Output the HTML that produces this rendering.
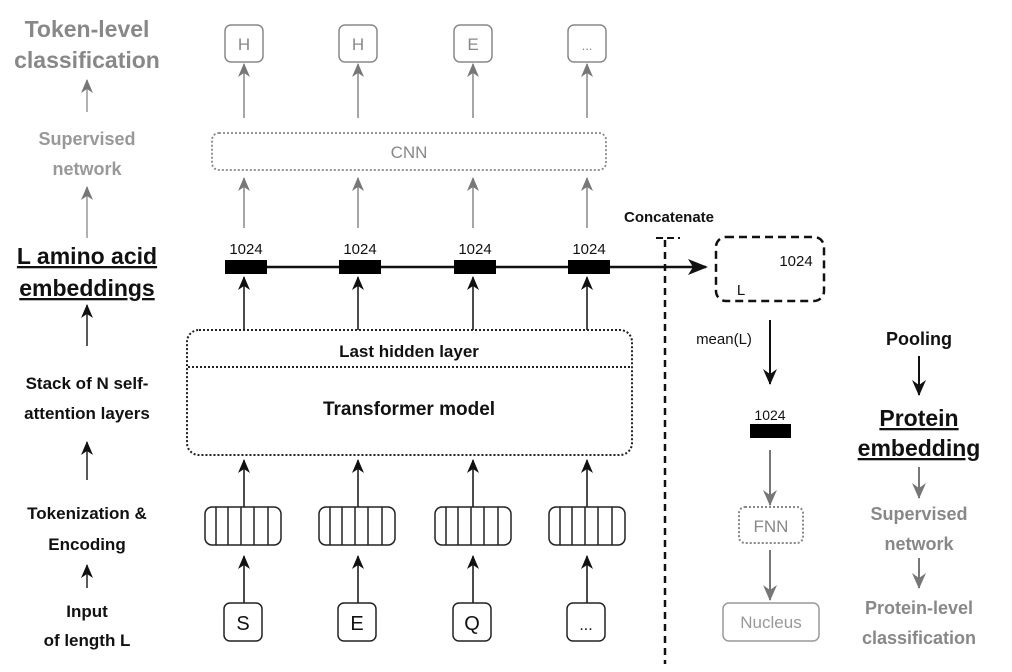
<!DOCTYPE html>
<html><head><style>
html,body{margin:0;padding:0;background:#fff;}
svg{display:block;font-family:"Liberation Sans",Arial,sans-serif;}
</style></head><body>
<svg width="1012" height="672" viewBox="0 0 1012 672" xmlns="http://www.w3.org/2000/svg">
<defs>
<marker id="ab" markerWidth="12" markerHeight="14" refX="6" refY="1" orient="0" markerUnits="userSpaceOnUse" viewBox="0 0 12 14"><path d="M0,14 L6,0 L12,14 L6,10 Z" fill="#111"/></marker>
<marker id="ag" markerWidth="12" markerHeight="14" refX="6" refY="1" orient="0" markerUnits="userSpaceOnUse" viewBox="0 0 12 14"><path d="M0,14 L6,0 L12,14 L6,10 Z" fill="#777"/></marker>
<marker id="big" markerWidth="20" markerHeight="16" refX="18" refY="8" orient="0" markerUnits="userSpaceOnUse" viewBox="0 0 20 16"><path d="M0,0 L20,8 L0,16 L5,8 Z" fill="#111"/></marker>
<marker id="dn" markerWidth="14" markerHeight="16" refX="7" refY="15" orient="0" markerUnits="userSpaceOnUse" viewBox="0 0 14 16"><path d="M0,0 L7,16 L14,0 L7,5 Z" fill="#111"/></marker>
<marker id="dng" markerWidth="14" markerHeight="16" refX="7" refY="15" orient="0" markerUnits="userSpaceOnUse" viewBox="0 0 14 16"><path d="M0,0 L7,16 L14,0 L7,5 Z" fill="#777"/></marker>
</defs>

<g font-weight="bold" text-anchor="middle">
<text x="87" y="37" font-size="23" fill="#888">Token-level</text>
<text x="87" y="68" font-size="23" fill="#888">classification</text>
<text x="87" y="145" font-size="18" fill="#999">Supervised</text>
<text x="87" y="175" font-size="18" fill="#999">network</text>
<text x="87" y="264" font-size="23" fill="#111" text-decoration="underline">L amino acid</text>
<text x="87" y="296" font-size="23" fill="#111" text-decoration="underline">embeddings</text>
<text x="87" y="389" font-size="17" fill="#111">Stack of N self-</text>
<text x="87" y="419" font-size="17" fill="#111">attention layers</text>
<text x="87" y="519" font-size="17" fill="#111">Tokenization &amp;</text>
<text x="87" y="550" font-size="17" fill="#111">Encoding</text>
<text x="87" y="617" font-size="17" fill="#111">Input</text>
<text x="87" y="646" font-size="17" fill="#111">of length L</text>
</g>
<line x1="87" y1="112" x2="87" y2="80" stroke="#999" stroke-width="1.5" marker-end="url(#ag)"/>
<line x1="87" y1="238" x2="87" y2="187" stroke="#999" stroke-width="1.5" marker-end="url(#ag)"/>
<line x1="87" y1="346" x2="87" y2="305" stroke="#222" stroke-width="1.5" marker-end="url(#ab)"/>
<line x1="87" y1="480" x2="87" y2="442" stroke="#222" stroke-width="1.5" marker-end="url(#ab)"/>
<line x1="87" y1="588" x2="87" y2="565" stroke="#222" stroke-width="1.5" marker-end="url(#ab)"/>

<rect x="212" y="133" width="394" height="37" rx="7" fill="none" stroke="#888" stroke-width="1.8" stroke-dasharray="2,2"/>
<text x="409" y="158" font-size="17" fill="#888" text-anchor="middle">CNN</text>

<rect x="187" y="330" width="445" height="125" rx="12" fill="none" stroke="#222" stroke-width="2" stroke-dasharray="2,2"/>
<line x1="188" y1="367" x2="631" y2="367" stroke="#222" stroke-width="2" stroke-dasharray="2,2"/>
<text x="409" y="357" font-size="17" font-weight="bold" text-anchor="middle" fill="#111">Last hidden layer</text>
<text x="409" y="415" font-size="19" font-weight="bold" text-anchor="middle" fill="#111">Transformer model</text>

<line x1="226" y1="267" x2="706" y2="267" stroke="#111" stroke-width="2.5" marker-end="url(#big)"/>

<g text-anchor="middle">
<rect x="225" y="25" width="38" height="37" rx="6" fill="#fff" stroke="#888" stroke-width="1.5"/>
<text x="244" y="50" font-size="17" fill="#888">H</text>
<rect x="339" y="25" width="38" height="37" rx="6" fill="#fff" stroke="#888" stroke-width="1.5"/>
<text x="358" y="50" font-size="17" fill="#888">H</text>
<rect x="454" y="25" width="38" height="37" rx="6" fill="#fff" stroke="#888" stroke-width="1.5"/>
<text x="473" y="50" font-size="17" fill="#888">E</text>
<rect x="568" y="25" width="38" height="37" rx="6" fill="#fff" stroke="#888" stroke-width="1.5"/>
<text x="587" y="50" font-size="13" fill="#888">...</text>
</g>
<g stroke="#888" stroke-width="1.5">
<line x1="244" y1="118" x2="244" y2="64" marker-end="url(#ag)"/>
<line x1="358" y1="118" x2="358" y2="64" marker-end="url(#ag)"/>
<line x1="473" y1="118" x2="473" y2="64" marker-end="url(#ag)"/>
<line x1="587" y1="118" x2="587" y2="64" marker-end="url(#ag)"/>
<line x1="244" y1="228" x2="244" y2="178" marker-end="url(#ag)"/>
<line x1="358" y1="228" x2="358" y2="178" marker-end="url(#ag)"/>
<line x1="473" y1="228" x2="473" y2="178" marker-end="url(#ag)"/>
<line x1="587" y1="228" x2="587" y2="178" marker-end="url(#ag)"/>
</g>
<g fill="#000">
<rect x="225" y="260" width="42" height="14"/>
<rect x="339" y="260" width="42" height="14"/>
<rect x="454" y="260" width="42" height="14"/>
<rect x="568" y="260" width="42" height="14"/>
</g>
<g font-size="15" fill="#111" text-anchor="middle">
<text x="246" y="254">1024</text><text x="360" y="254">1024</text><text x="475" y="254">1024</text><text x="589" y="254">1024</text>
</g>
<g stroke="#111" stroke-width="1.5">
<line x1="244" y1="330" x2="244" y2="277" marker-end="url(#ab)"/>
<line x1="358" y1="330" x2="358" y2="277" marker-end="url(#ab)"/>
<line x1="473" y1="330" x2="473" y2="277" marker-end="url(#ab)"/>
<line x1="587" y1="330" x2="587" y2="277" marker-end="url(#ab)"/>
<line x1="244" y1="507" x2="244" y2="460" marker-end="url(#ab)"/>
<line x1="358" y1="507" x2="358" y2="460" marker-end="url(#ab)"/>
<line x1="473" y1="507" x2="473" y2="460" marker-end="url(#ab)"/>
<line x1="587" y1="507" x2="587" y2="460" marker-end="url(#ab)"/>
<line x1="244" y1="603" x2="244" y2="556" marker-end="url(#ab)"/>
<line x1="358" y1="603" x2="358" y2="556" marker-end="url(#ab)"/>
<line x1="473" y1="603" x2="473" y2="556" marker-end="url(#ab)"/>
<line x1="587" y1="603" x2="587" y2="556" marker-end="url(#ab)"/>
</g>
<g fill="none" stroke="#222" stroke-width="1.5">
<rect x="205" y="507" width="76" height="38" rx="7"/>
<path d="M216,507V545M228,507V545M241,507V545M254,507V545M268,507V545"/>
<rect x="319" y="507" width="76" height="38" rx="7"/>
<path d="M330,507V545M342,507V545M355,507V545M368,507V545M382,507V545"/>
<rect x="435" y="507" width="76" height="38" rx="7"/>
<path d="M446,507V545M458,507V545M471,507V545M484,507V545M498,507V545"/>
<rect x="549" y="507" width="76" height="38" rx="7"/>
<path d="M560,507V545M572,507V545M585,507V545M598,507V545M612,507V545"/>
<rect x="224" y="603" width="38" height="38" rx="6"/>
<rect x="338" y="603" width="38" height="38" rx="6"/>
<rect x="453" y="603" width="38" height="38" rx="6"/>
<rect x="567" y="603" width="38" height="38" rx="6"/>
</g>
<g font-size="20" fill="#111" text-anchor="middle">
<text x="243" y="630">S</text><text x="357" y="630">E</text><text x="472" y="630">Q</text><text x="586" y="630" font-size="16">...</text>
</g>

<text x="669" y="222" font-size="15" font-weight="bold" text-anchor="middle" fill="#111">Concatenate</text>
<line x1="665" y1="240" x2="665" y2="664" stroke="#111" stroke-width="2.5" stroke-dasharray="7,5"/>
<line x1="656" y1="238" x2="680" y2="238" stroke="#111" stroke-width="2" stroke-dasharray="7,4"/>
<rect x="716" y="237" width="108" height="64" rx="10" fill="none" stroke="#111" stroke-width="2.5" stroke-dasharray="8,5"/>
<text x="796" y="266" font-size="15" fill="#111" text-anchor="middle">1024</text>
<text x="741" y="295" font-size="15" fill="#111" text-anchor="middle">L</text>
<text x="724" y="344" font-size="15" fill="#111" text-anchor="middle">mean(L)</text>
<line x1="770" y1="320" x2="770" y2="384" stroke="#111" stroke-width="2" marker-end="url(#dn)"/>
<text x="770" y="420" font-size="14" fill="#111" text-anchor="middle">1024</text>
<rect x="750" y="424" width="41" height="14" fill="#000"/>
<line x1="770" y1="450" x2="770" y2="505" stroke="#777" stroke-width="2" marker-end="url(#dng)"/>
<rect x="739" y="507" width="64" height="36" rx="6" fill="none" stroke="#888" stroke-width="2" stroke-dasharray="2,2"/>
<text x="771" y="532" font-size="17" fill="#888" text-anchor="middle">FNN</text>
<line x1="770" y1="550" x2="770" y2="600" stroke="#777" stroke-width="2" marker-end="url(#dng)"/>
<rect x="723" y="603" width="96" height="38" rx="6" fill="none" stroke="#999" stroke-width="1.5"/>
<text x="771" y="628" font-size="17" fill="#999" text-anchor="middle">Nucleus</text>

<g font-weight="bold" text-anchor="middle">
<text x="919" y="345" font-size="18" fill="#111">Pooling</text>
<text x="919" y="426" font-size="23" fill="#111" text-decoration="underline">Protein</text>
<text x="919" y="456" font-size="23" fill="#111" text-decoration="underline">embedding</text>
<text x="919" y="520" font-size="18" fill="#888">Supervised</text>
<text x="919" y="550" font-size="18" fill="#888">network</text>
<text x="919" y="614" font-size="18" fill="#888">Protein-level</text>
<text x="919" y="644" font-size="18" fill="#888">classification</text>
</g>
<line x1="919" y1="356" x2="919" y2="395" stroke="#111" stroke-width="2" marker-end="url(#dn)"/>
<line x1="919" y1="467" x2="919" y2="498" stroke="#777" stroke-width="2" marker-end="url(#dng)"/>
<line x1="919" y1="558" x2="919" y2="588" stroke="#777" stroke-width="2" marker-end="url(#dng)"/>
</svg>
</body></html>
